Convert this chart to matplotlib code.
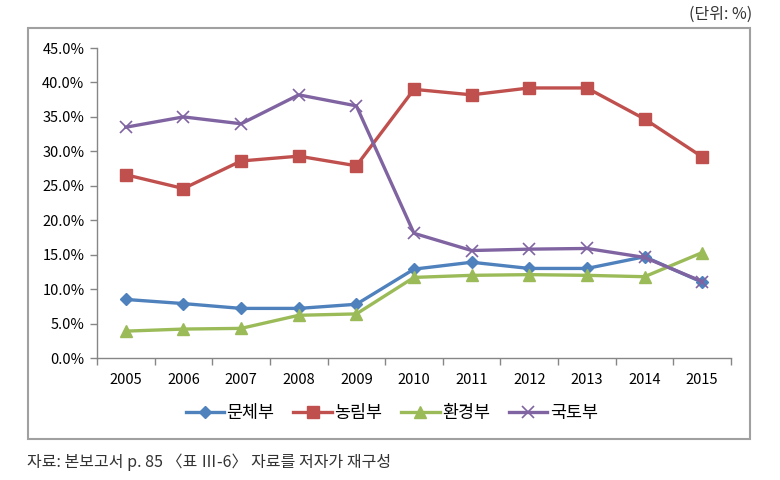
import matplotlib.pyplot as plt
from matplotlib.patches import Rectangle
from matplotlib.ticker import FuncFormatter, FixedLocator
import numpy as np

plt.rcParams['font.family'] = ['Noto Sans CJK KR', 'DejaVu Sans']

years = ['2005', '2006', '2007', '2008', '2009', '2010', '2011', '2012', '2013', '2014', '2015']
munche = [8.5, 7.9, 7.2, 7.2, 7.8, 12.9, 13.9, 13.0, 13.0, 14.7, 11.0]
nongrim = [26.6, 24.6, 28.6, 29.3, 27.9, 39.0, 38.2, 39.2, 39.2, 34.7, 29.2]
hwangyeong = [3.9, 4.2, 4.3, 6.2, 6.4, 11.7, 12.0, 12.1, 12.0, 11.8, 15.3]
gukto = [33.5, 35.0, 34.0, 38.2, 36.6, 18.1, 15.6, 15.8, 15.9, 14.6, 11.1]

W, H = 780, 480
fig = plt.figure(figsize=(W / 100, H / 100), dpi=100)
ax = fig.add_axes([97 / W, 1 - 358 / H, (731 - 97) / W, (358 - 48) / H])

x = np.arange(len(years))
ax.plot(x, munche, color='#4F81BD', lw=2.4, marker='D', ms=6.5, label='문체부')
ax.plot(x, nongrim, color='#C0504D', lw=2.4, marker='s', ms=8, label='농림부')
ax.plot(x, hwangyeong, color='#9BBB59', lw=2.4, marker='^', ms=8.5, label='환경부')
ax.plot(x, gukto, color='#8064A2', lw=2.4, marker='x', ms=8, mew=1.2, label='국토부')

ax.set_xlim(-0.5, len(years) - 0.5)
ax.set_ylim(0, 45)
ax.set_yticks(np.arange(0, 46, 5))
ax.yaxis.set_major_formatter(FuncFormatter(lambda v, p: f'{v:.1f}%'))
ax.set_xticks(x)
ax.set_xticklabels(years)
ax.xaxis.set_minor_locator(FixedLocator(np.arange(-0.5, len(years), 1)))
ax.tick_params(axis='x', which='major', length=0, pad=11, labelsize=10.5)
ax.tick_params(axis='x', which='minor', length=5, color='#868686', width=1)
ax.tick_params(axis='y', length=5, color='#868686', width=1, labelsize=10.5, pad=4)
for s in ['top', 'right']:
    ax.spines[s].set_visible(False)
for s in ['left', 'bottom']:
    ax.spines[s].set_color('#868686')
    ax.spines[s].set_linewidth(1)

ax.legend(loc='center', bbox_to_anchor=(0.465, -0.177), ncol=4, frameon=False,
          fontsize=12.5, handlelength=2.2, columnspacing=1.1, handletextpad=0.15)

fig.patches.append(Rectangle((28 / W, 1 - 439 / H), (750 - 28) / W, (439 - 28) / H,
                             transform=fig.transFigure, fill=False,
                             edgecolor='#A0A0A0', lw=1.5))
fig.text(752 / W, 1 - 14 / H, '(단위: %)', ha='right', va='center', fontsize=11.5, color='#333333')
fig.text(27 / W, 1 - 462 / H, '자료: 본보고서 p. 85 〈표 Ⅲ-6〉 자료를 저자가 재구성',
         ha='left', va='center', fontsize=11.5, color='#333333')

fig.savefig('out.png', dpi=100)
